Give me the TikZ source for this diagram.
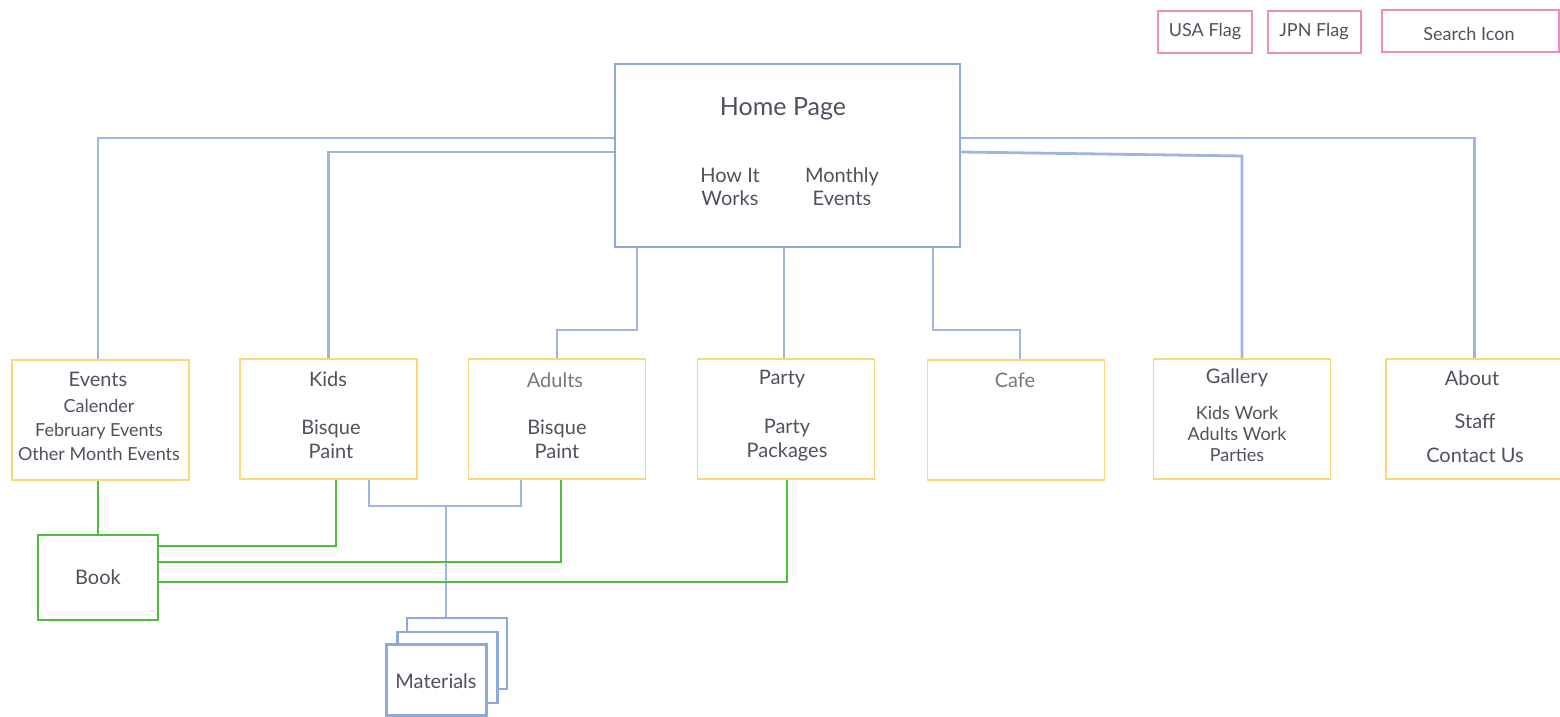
\documentclass[tikz,border=0pt]{standalone}
\usepackage{fontspec}
\setmainfont{Lato}
\usepackage{tikz}
\usetikzlibrary{positioning}

\definecolor{linkblue}{HTML}{9DB5E0}
\definecolor{homeblue}{HTML}{8EA9DB}
\definecolor{secyellow}{HTML}{F9D977}
\definecolor{bookgreen}{HTML}{4DBE3C}
\definecolor{toppink}{HTML}{EE8FBB}
\definecolor{inkgray}{HTML}{50505E}
\definecolor{softgray}{HTML}{77777F}

\begin{document}
\begin{tikzpicture}[x=0.5pt, y=-0.5pt,
      home/.style={draw=homeblue, line width=1.4pt, minimum width=172.5pt, minimum height=91.5pt},
      section/.style={draw=secyellow, line width=0.8pt, minimum width=88.5pt, minimum height=60pt},
      book/.style={draw=bookgreen, line width=0.7pt, minimum width=60pt, minimum height=42.5pt},
      sheet/.style={draw=homeblue, fill=white, line width=1.3pt, minimum width=50pt, minimum height=35.5pt},
      tag/.style={draw=toppink, line width=0.8pt, minimum height=21pt},
      txt/.style={inner sep=0pt, text=inkgray, align=center, font=\fontsize{10}{12}\selectfont},
      small/.style={inner sep=0pt, text=inkgray, align=center, font=\fontsize{9}{12}\selectfont},
      bline/.style={draw=linkblue, line width=1.4pt},
      gline/.style={draw=bookgreen, line width=0.7pt}
      ]
    \clip (0,0) rectangle (1560,717);
    \useasboundingbox (0,0) rectangle (1560,717);

    % Nodes
    \node[home] (home) at (787.5,155.5) {};
    \node[txt, font=\fontsize{12.5}{15}\selectfont] (home-t) at (783,109) {Home Page};
    \node[txt, font=\fontsize{10}{11.5}\selectfont] (howit) at (730,187) {How It\\Works};
    \node[txt, font=\fontsize{10}{11.5}\selectfont] (monthly) at (842,187) {Monthly\\Events};

    \node[tag, minimum width=47pt] (usa) at (1205,32) {};
    \node[tag, minimum width=46.5pt] (jpn) at (1314.5,32) {};
    \node[tag, minimum width=88.5pt] (search) at (1470.5,31) {};
    \node[small] (usa-t) at (1205,32) {USA Flag};
    \node[small] (jpn-t) at (1314,32) {JPN Flag};
    \node[small] (search-t) at (1469,34) {Search Icon};

    \node[section] (events) at (100.5,420) {};
    \node[section] (kids) at (328.5,419) {};
    \node[section] (adults) at (557,419) {};
    \node[section] (party) at (786,419) {};
    \node[section] (cafe) at (1016,420) {};
    \node[section] (gallery) at (1242,419) {};
    \node[section] (about) at (1474.5,419) {};

    \node[txt] (events-t) at (98,379) {Events};
    \node[small] (events-s) at (99,429.5) {Calender\\February Events\\Other Month Events};
    \node[txt] (kids-t) at (328,379) {Kids};
    \node[txt] (kids-s) at (331,439) {Bisque\\Paint};
    \node[txt, text=softgray] (adults-t) at (555,380) {Adults};
    \node[txt] (adults-s) at (557,439) {Bisque\\Paint};
    \node[txt] (party-t) at (782,379) {Party};
    \node[txt] (party-s) at (787,440) {Party\\Packages};
    \node[txt, text=softgray] (cafe-t) at (1015,380) {Cafe};
    \node[txt] (gallery-t) at (1237,378) {Gallery};
    \node[small, font=\fontsize{9}{10.5}\selectfont] (gallery-s) at (1237,434) {Kids Work\\Adults Work\\Parties};
    \node[txt] (about-t) at (1472,378) {About};
    \node[txt, font=\fontsize{10}{17}\selectfont] (about-s) at (1475,438) {Staff\\Contact Us};

    \node[book] (book) at (98,577.5) {};
    \node[txt] (book-t) at (98,577) {Book};

    \node[sheet] (mat3) at (457,653.5) {};
    \node[sheet] (mat2) at (447.5,667.5) {};
    \node[sheet] (mat1) at (436.5,680) {};
    \node[txt] (mat-t) at (436,681) {Materials};

    \coordinate (mjoin) at (446,506);
    \coordinate (cafejoin) at (1020,330);

    % Links
    \draw[bline] (home.west |- 0,138) -| (events.north -| 98,0);
    \draw[bline] (home.west |- 0,152) -| (kids.north);
    \draw[bline] (home.south -| 637,0) |- (adults.north |- 0,330) -- (adults.north);
    \draw[bline] (home.south -| 784,0) -- (party.north -| 784,0);
    \draw[bline] (home.south -| 933,0) |- (cafejoin) -- (cafe.north -| cafejoin);
    \draw[bline] (home.east |- 0,152) -- (gallery.north |- 0,156) -- (gallery.north);
    \draw[bline] (home.east |- 0,138) -| (about.north);

    \draw[bline] (kids.south -| 369,0) |- (mjoin) -| (adults.south -| 521,0);
    \draw[bline] (mjoin) -- (mjoin |- mat3.north);

    \draw[gline] (book.north |- events.south) -- (book.north);
    \draw[gline] (kids.south -| 336,0) |- (book.east |- 0,546);
    \draw[gline] (adults.south -| 561,0) |- (book.east |- 0,562);
    \draw[gline] (party.south -| 787,0) |- (book.east |- 0,582);

\end{tikzpicture}
\end{document}
